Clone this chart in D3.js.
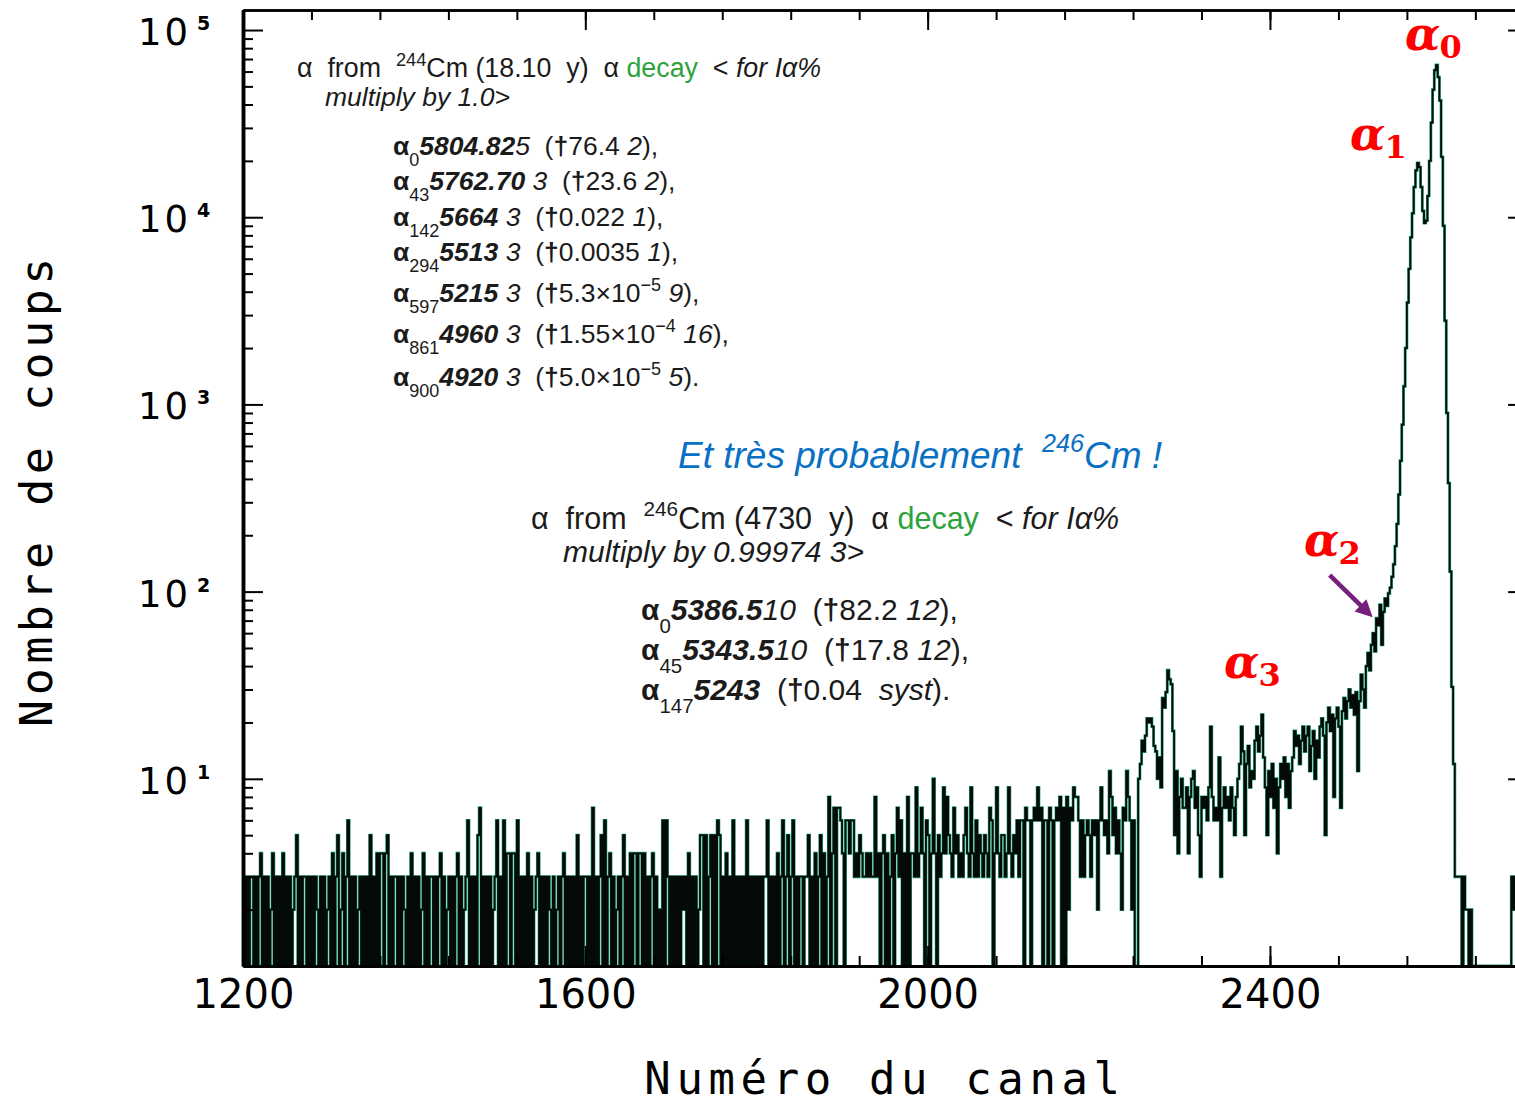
<!DOCTYPE html>
<html>
<head>
<meta charset="utf-8">
<script src="https://cdn.jsdelivr.net/npm/d3@7"></script>
<style>
  html, body { margin: 0; padding: 0; background: #fff; }
  svg { display: block; }
</style>
</head>
<body>
<svg id="chart" width="1515" height="1103"></svg>
<script>
// ---------------------------------------------------------------
// Alpha spectrum, counts per 2-channel bin (log scale)
// ---------------------------------------------------------------
const binWidth = 2;

// channels 1200-1798: flat background
const bgLowStart = 1200;
const bgLow = [
  3,0,3,0,3,3,0,3,0,3, 4,0,3,0,3,0,2,4,0,3, 0,3,0,4,0,3,0,3,0,2, 3,5,0,3,0,3,3,0,3,0, 3,0,3,2,0,3,0,3,0,2,
  3,0,4,0,3,5,0,2,4,0, 3,6,0,3,0,3,0,2,3,0, 3,0,3,0,5,0,3,0,4,0, 4,4,0,4,5,0,3,0,3,3, 0,3,0,3,2,0,3,0,4,0,
  3,0,3,0,2,4,0,3,0,3, 3,0,3,0,3,4,0,3,0,2, 3,0,3,0,3,4,0,3,0,2, 3,6,0,3,0,3,0,5,7,0, 3,0,3,0,3,0,2,3,6,0,
  3,0,6,0,4,4,0,4,4,0, 6,0,3,0,3,0,4,0,3,0, 2,3,4,0,3,0,3,0,3,2, 0,3,0,2,3,0,3,4,0,3, 0,3,0,3,0,5,0,3,0,3,
  3,0,3,0,7,0,3,0,3,5, 0,6,0,3,4,0,3,0,2,3, 0,3,5,0,3,0,4,0,4,4, 0,4,4,0,4,0,3,0,3,4, 0,3,0,2,0,6,0,6,3,0,
  3,0,3,0,3,0,3,2,3,0, 4,0,3,0,3,0,2,5,5,0, 5,0,3,5,0,5,0,6,5,0, 3,0,4,0,3,0,6,0,3,0, 3,0,3,0,6,0,3,0,3,0
];

// channels 1800-2238: slowly rising background
const bgHighStart = 1800;
const bgHigh = [
  3,0,3,0,3,3,6,0,3,0, 3,0,4,0,3,6,0,3,5,0, 3,6,0,3,0,3,3,0,3,3, 5,0,3,0,4,0,3,5,0,4, 0,3,8,0,4,7,0,7,7,6,
  4,0,6,6,4,6,6,3,4,3, 5,4,3,3,4,3,4,3,3,8, 3,4,0,4,5,0,4,0,3,5, 0,4,7,3,6,0,4,0,8,0, 4,4,3,9,3,4,7,4,0,6,
  5,0,4,10,4,0,5,3,4,9, 4,8,5,4,3,7,4,5,3,4, 3,5,7,4,3,9,4,3,6,3, 5,4,3,5,4,3,7,6,0,4, 9,4,3,5,5,3,4,9,4,3,
  5,4,6,3,6,6,0,7,6,6, 0,6,7,6,9,6,7,0,6,6, 0,7,6,0,6,7,6,8,0,7, 0,8,2,7,6,9,8,8,6,3, 6,3,5,6,5,3,6,5,6,2,
  6,9,6,5,6,4,11,8,5,7, 4,6,4,2,7,6,11,8,6,2
];

// channels 2240-2298: 246Cm bump
const cm246Start = 2240;
const cm246 = [
  6,0,0,10,12,16,14,17,21,20, 21,19,15,14,10,13,9,27,24,29, 38,34,32,18,5,11,4,8,10,7
];

// channels 2300-2538: low-energy shoulder (alpha3, alpha2)
const shoulderStart = 2300;
const shoulder = [
  7,9,4,8,10,11,7,9,5,3, 8,7,8,6,9,19,8,6,7,6, 13,3,7,9,7,8,6,9,7,5, 8,10,12,19,14,5,12,15,9,11,
  10,16,19,14,17,22,13,9,5,11, 8,12,7,10,4,9,12,10,13,8, 12,7,11,13,18,15,17,12,16,19, 14,17,19,11,15,18,10,16,13,19,
  21,17,5,20,24,18,22,8,21,24, 19,7,23,27,21,26,30,24,28,22, 29,11,26,36,30,24,40,47,38,52, 60,48,72,66,85,52,78,92,84,98
];

// channels 2540-2618: alpha1 / alpha0 doublet
const mainPeakStart = 2540;
const mainPeak = [
  105,120,140,175,230,330,500,780,1250,2000,
  3500,5300,7800,10500,14500,17800,19500,18500,14500,10800,
  9300,9600,13000,20000,32000,48000,61000,65000,56000,42000,
  21000,9000,2800,900,380,128,31,12,3,3
];

// channels 2620-2688: above the peak
const tailStart = 2620;
const tail = [
  3,3,0,3,2,2,0,2,0,0, 0,0,0,0,0,0,0,0,0,0, 0,0,0,0,0,0,0,0,0,0, 0,3,2,3,2
];

// axis ticks and labels
const xMajorTicks = [1200, 1600, 2000, 2400];
const xMinorStep = 80;
const yDecades = [10, 100, 1000, 10000, 100000];
const yExponents = ["1", "2", "3", "4", "5"];
const xTitle = "Numéro du canal";
const yTitle = "Nombre de coups";

// ---------------------------------------------------------------
const svg = d3.select("#chart");
const sans = "'Liberation Sans', Arial, Helvetica, sans-serif";
const mono = "'DejaVu Sans Mono', monospace";
const axisFont = "'DejaVu Sans', sans-serif";

const plotLeft = 243, plotTop = 10, plotBottom = 966;
const x = d3.scaleLinear().domain([1200, 2690]).range([plotLeft, plotLeft + 1490 * 0.8558]);
const y = d3.scaleLog().domain([1, Math.pow(10, 5.107)]).range([plotBottom, plotTop]);
const plotRight = x.range()[1];

const segments = [
  [bgLowStart, bgLow], [bgHighStart, bgHigh], [cm246Start, cm246],
  [shoulderStart, shoulder], [mainPeakStart, mainPeak], [tailStart, tail]
];
const bins = segments.flatMap(([start, vals]) =>
  vals.map((n, i) => ({ ch: start + i * binWidth, n })));
const last = bins[bins.length - 1];
bins.push({ ch: last.ch + binWidth, n: last.n });

svg.append("clipPath").attr("id", "plotClip")
  .append("rect")
  .attr("x", plotLeft).attr("y", plotTop)
  .attr("width", plotRight - plotLeft).attr("height", plotBottom - plotTop);

const line = d3.line()
  .x(d => x(d.ch))
  .y(d => y(Math.max(1, d.n)))
  .curve(d3.curveStepAfter);

// spectrum: green halo under a near-black trace
const plot = svg.append("g").attr("clip-path", "url(#plotClip)");
plot.append("path").attr("d", line(bins))
  .attr("fill", "none").attr("stroke", "#21a175").attr("stroke-width", 2.9);
plot.append("path").attr("d", line(bins))
  .attr("fill", "none").attr("stroke", "#040b07").attr("stroke-width", 1.75);

// ---------------------------------------------------------------
// Axes
const xMinor = d3.range(1200, 2690, xMinorStep);
const yMinor = [];
for (let e = 0; e < 5; e++) for (let m = 2; m <= 9; m++) yMinor.push(m * Math.pow(10, e));

function styleAxis(g, width) {
  g.selectAll(".domain").attr("stroke", "#000").attr("stroke-width", width);
  g.selectAll(".tick line").attr("stroke", "#000").attr("stroke-width", 2);
}

// bottom
const gxMinor = svg.append("g").attr("transform", `translate(0,${plotBottom})`)
  .call(d3.axisBottom(x).tickValues(xMinor).tickSize(-10).tickSizeOuter(0).tickFormat(""));
styleAxis(gxMinor, 3);
const gxMajor = svg.append("g").attr("transform", `translate(0,${plotBottom})`)
  .call(d3.axisBottom(x).tickValues(xMajorTicks).tickSize(-20).tickSizeOuter(0).tickPadding(14)
    .tickFormat(d3.format("d")));
styleAxis(gxMajor, 3);
gxMajor.selectAll(".tick text")
  .attr("font-family", axisFont).attr("font-size", 40).attr("fill", "#000");

// top
const gtMinor = svg.append("g").attr("transform", `translate(0,${plotTop})`)
  .call(d3.axisTop(x).tickValues(xMinor).tickSize(-10).tickSizeOuter(0).tickFormat(""));
styleAxis(gtMinor, 2.5);
const gtMajor = svg.append("g").attr("transform", `translate(0,${plotTop})`)
  .call(d3.axisTop(x).tickValues(xMajorTicks).tickSize(-20).tickSizeOuter(0).tickFormat(""));
styleAxis(gtMajor, 2.5);

// left
const gyMinor = svg.append("g").attr("transform", `translate(${plotLeft},0)`)
  .call(d3.axisLeft(y).tickValues(yMinor).tickSize(-10).tickSizeOuter(0).tickFormat(""));
styleAxis(gyMinor, 3.5);
const gyMajor = svg.append("g").attr("transform", `translate(${plotLeft},0)`)
  .call(d3.axisLeft(y).tickValues(yDecades).tickSize(-20).tickSizeOuter(0).tickFormat(""));
styleAxis(gyMajor, 3.5);

// right
const gyRight = svg.append("g").attr("transform", `translate(${plotRight},0)`)
  .call(d3.axisRight(y).tickValues(yDecades).tickSize(-10).tickSizeOuter(0).tickFormat(""));
styleAxis(gyRight, 2.5);

// decade labels 10^n
const yLabels = svg.append("g").attr("font-family", axisFont).attr("fill", "#000");
yDecades.forEach((v, i) => {
  const t = yLabels.append("text")
    .attr("x", 138).attr("y", y(v) + 15)
    .attr("font-size", 37).attr("letter-spacing", 3);
  t.append("tspan").text("10");
  t.append("tspan").text(yExponents[i])
    .attr("font-size", 19).attr("dx", 6).attr("dy", -15).attr("font-weight", "bold");
});

// axis titles
svg.append("text")
  .attr("x", 885).attr("y", 1094).attr("text-anchor", "middle")
  .attr("font-family", mono).attr("font-size", 44).attr("letter-spacing", 5.6)
  .attr("fill", "#000").text(xTitle);
svg.append("text")
  .attr("transform", "translate(52,490) rotate(-90)").attr("text-anchor", "middle")
  .attr("font-family", mono).attr("font-size", 45).attr("letter-spacing", 4.5)
  .attr("fill", "#000").text(yTitle);

// ---------------------------------------------------------------
// Rich text helper: runs of [text, "flags"] with b / i / sub / sup / green
function rich(parent, x0, y0, size, runs, fill) {
  const t = parent.append("text")
    .attr("x", x0).attr("y", y0)
    .attr("font-family", sans).attr("font-size", size)
    .attr("fill", fill || "#1b1b1b")
    .style("white-space", "pre");
  let shift = 0;
  runs.forEach(([str, fmt]) => {
    const f = (fmt || "").split(" ");
    const ts = t.append("tspan").text(str);
    let target = 0;
    if (f.includes("sub")) target = size * 0.42;
    if (f.includes("sup")) target = -size * 0.42;
    if (f.includes("sub") || f.includes("sup")) ts.attr("font-size", size * 0.68);
    if (target !== shift) { ts.attr("dy", target - shift); shift = target; }
    if (f.includes("b")) ts.attr("font-weight", "bold");
    if (f.includes("i")) ts.attr("font-style", "italic");
    if (f.includes("green")) ts.attr("fill", "#2ea23c");
  });
  return t;
}

const notes = svg.append("g");

// 244Cm block
rich(notes, 297, 77, 26.8, [["α",""],["  from  ",""],["244","sup"],["Cm (18.10  y)  α ",""],
  ["decay","green"],["  < ",""],["for Iα%","i"]]);
rich(notes, 325, 106, 26.5, [["multiply by 1.0>","i"]]);

const cm244Lines = [
  [155, [["α","b"],["0","sub"],["5804.82","b i"],["5","i"],["  (",""],["†","b"],["76.4",""],[" 2","i"],["),",""]]],
  [190, [["α","b"],["43","sub"],["5762.70","b i"],[" 3","i"],["  (",""],["†","b"],["23.6",""],[" 2","i"],["),",""]]],
  [226, [["α","b"],["142","sub"],["5664","b i"],[" 3","i"],["  (",""],["†","b"],["0.022",""],[" 1","i"],["),",""]]],
  [261, [["α","b"],["294","sub"],["5513","b i"],[" 3","i"],["  (",""],["†","b"],["0.0035",""],[" 1","i"],["),",""]]],
  [302, [["α","b"],["597","sub"],["5215","b i"],[" 3","i"],["  (",""],["†","b"],["5.3×10",""],["−5","sup"],[" 9","i"],["),",""]]],
  [343, [["α","b"],["861","sub"],["4960","b i"],[" 3","i"],["  (",""],["†","b"],["1.55×10",""],["−4","sup"],[" 16","i"],["),",""]]],
  [386, [["α","b"],["900","sub"],["4920","b i"],[" 3","i"],["  (",""],["†","b"],["5.0×10",""],["−5","sup"],[" 5","i"],[").",""]]]
];
cm244Lines.forEach(([yy, runs]) => rich(notes, 393, yy, 26.5, runs));

// 246Cm block
rich(notes, 678, 468, 37, [["Et très probablement  ","i"],["246","sup i"],["Cm !","i"]], "#0a70c4");
rich(notes, 531, 529, 30.5, [["α",""],["  from  ",""],["246","sup"],["Cm (4730  y)  α ",""],
  ["decay","green"],["  < ",""],["for Iα%","i"]]);
rich(notes, 563, 562, 30, [["multiply by 0.99974","i"],[" 3>","i"]]);
const cm246Lines = [
  [620, [["α","b"],["0","sub"],["5386.5","b i"],["10","i"],["  (",""],["†","b"],["82.2",""],[" 12","i"],["),",""]]],
  [660, [["α","b"],["45","sub"],["5343.5","b i"],["10","i"],["  (",""],["†","b"],["17.8",""],[" 12","i"],["),",""]]],
  [700, [["α","b"],["147","sub"],["5243","b i"],["  (",""],["†","b"],["0.04",""],["  syst","i"],[").",""]]]
];
cm246Lines.forEach(([yy, runs]) => rich(notes, 641, yy, 30, runs));

// peak labels
const peakLabels = [
  { sub: "0", x: 1405, y: 50 },
  { sub: "1", x: 1350, y: 150 },
  { sub: "2", x: 1304, y: 556 },
  { sub: "3", x: 1224, y: 678 }
];
const serif = "'DejaVu Serif', 'Liberation Serif', serif";
peakLabels.forEach(p => {
  const t = svg.append("text").attr("x", p.x).attr("y", p.y)
    .attr("font-family", serif).attr("fill", "#ff0000").attr("font-weight", "bold");
  t.append("tspan").text("α").attr("font-size", 46).attr("font-style", "italic");
  t.append("tspan").text(p.sub).attr("font-size", 32).attr("dy", 8).attr("dx", -1);
});

// arrow to the alpha2 shoulder
const tipX = x(2520), tipY = y(73);
const tailX = tipX - 43, tailY = tipY - 42;
const ang = Math.atan2(tipY - tailY, tipX - tailX);
const headLen = 17, headHalf = 8.5;
const baseX = tipX - headLen * Math.cos(ang), baseY = tipY - headLen * Math.sin(ang);
svg.append("line")
  .attr("x1", tailX).attr("y1", tailY).attr("x2", baseX + 2 * Math.cos(ang)).attr("y2", baseY + 2 * Math.sin(ang))
  .attr("stroke", "#74207a").attr("stroke-width", 4.5);
svg.append("path")
  .attr("d", `M${tipX},${tipY}L${baseX - headHalf * Math.sin(ang)},${baseY + headHalf * Math.cos(ang)}L${baseX + headHalf * Math.sin(ang)},${baseY - headHalf * Math.cos(ang)}Z`)
  .attr("fill", "#74207a");
</script>
</body>
</html>
